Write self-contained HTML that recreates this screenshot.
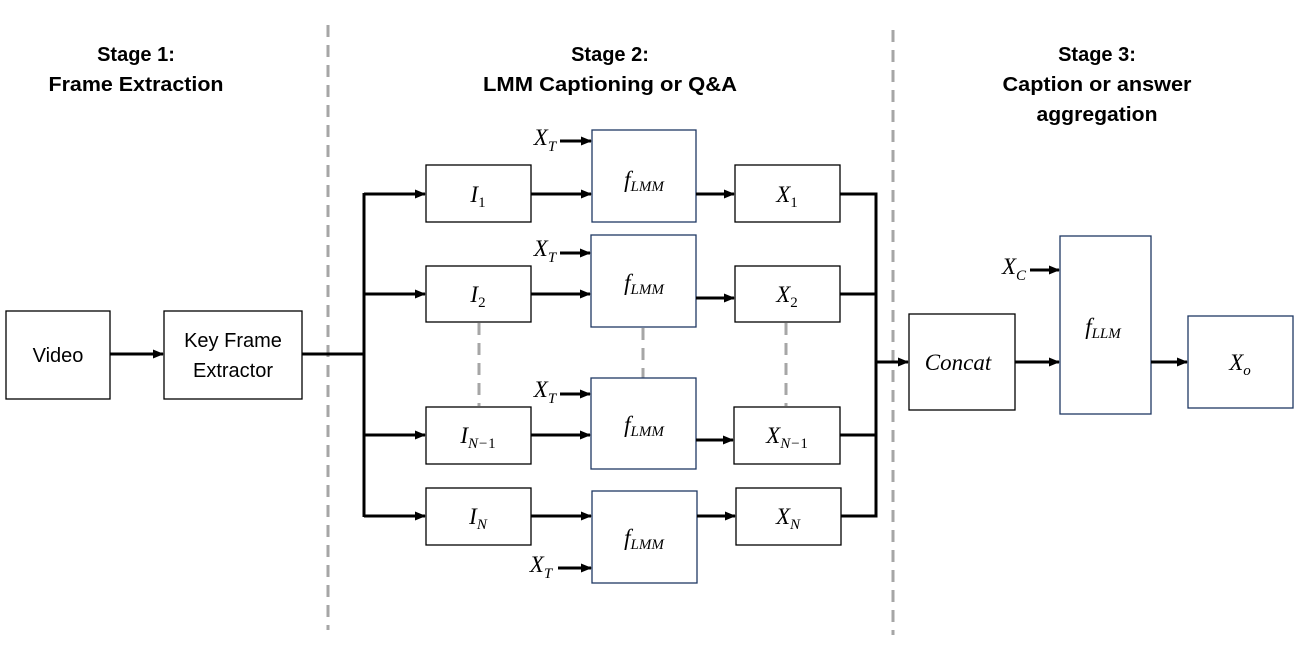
<!DOCTYPE html>
<html><head><meta charset="utf-8"><style>
html,body{margin:0;padding:0;background:#fff;}
svg{display:block}
.t{font-family:"Liberation Sans",sans-serif;font-weight:bold;font-size:20px;text-anchor:middle;fill:#000}
.n{font-family:"Liberation Sans",sans-serif;font-size:20px;text-anchor:middle;fill:#000}
.m{font-family:"Liberation Serif",serif;font-style:italic;font-size:23px;fill:#000;text-anchor:middle}
.s{font-size:15px}
.u{font-size:15px;font-style:normal}
</style></head><body>
<svg width="1304" height="651" viewBox="0 0 1304 651" xmlns="http://www.w3.org/2000/svg">
<defs>
<marker id="a" markerWidth="11" markerHeight="9" refX="10" refY="4.5" orient="auto" markerUnits="userSpaceOnUse">
<path d="M0,0 L11,4.5 L0,9 z" fill="#000"/></marker>
</defs>
<text class="t" x="136" y="61">Stage 1:</text>
<text class="t" x="136" y="91" textLength="175" lengthAdjust="spacingAndGlyphs">Frame Extraction</text>
<text class="t" x="610" y="61">Stage 2:</text>
<text class="t" x="610" y="91" textLength="254" lengthAdjust="spacingAndGlyphs">LMM Captioning or Q&amp;A</text>
<text class="t" x="1097" y="61">Stage 3:</text>
<text class="t" x="1097" y="91" textLength="189" lengthAdjust="spacingAndGlyphs">Caption or answer</text>
<text class="t" x="1097" y="121" textLength="121" lengthAdjust="spacingAndGlyphs">aggregation</text>
<g stroke="#a6a6a6" stroke-width="3" stroke-dasharray="12,8">
<line x1="328" y1="25" x2="328" y2="630"/>
<line x1="893" y1="30" x2="893" y2="635"/>
<line x1="479" y1="323" x2="479" y2="406"/>
<line x1="643" y1="328" x2="643" y2="378"/>
<line x1="786" y1="323" x2="786" y2="406"/>
</g>
<g fill="#fff" stroke="#000" stroke-width="1.3">
<rect x="6" y="311" width="104" height="88"/>
<rect x="164" y="311" width="138" height="88"/>
<rect x="426" y="165" width="105" height="57"/>
<rect x="426" y="266" width="105" height="56"/>
<rect x="426" y="407" width="105" height="57"/>
<rect x="426" y="488" width="105" height="57"/>
<rect x="735" y="165" width="105" height="57"/>
<rect x="735" y="266" width="105" height="56"/>
<rect x="734" y="407" width="106" height="57"/>
<rect x="736" y="488" width="105" height="57"/>
<rect x="909" y="314" width="106" height="96"/>
</g>
<g fill="#fff" stroke="#1f3864" stroke-width="1.3">
<rect x="592" y="130" width="104" height="92"/>
<rect x="591" y="235" width="105" height="92"/>
<rect x="591" y="378" width="105" height="91"/>
<rect x="592" y="491" width="105" height="92"/>
<rect x="1060" y="236" width="91" height="178"/>
<rect x="1188" y="316" width="105" height="92"/>
</g>
<g stroke="#000" stroke-width="3" fill="none">
<line x1="110" y1="354" x2="163" y2="354" marker-end="url(#a)"/>
<polyline points="302,354 364,354"/>
<line x1="364" y1="193" x2="364" y2="517"/>
<line x1="364" y1="194" x2="425" y2="194" marker-end="url(#a)"/>
<line x1="364" y1="294" x2="425" y2="294" marker-end="url(#a)"/>
<line x1="364" y1="435" x2="425" y2="435" marker-end="url(#a)"/>
<line x1="364" y1="516" x2="425" y2="516" marker-end="url(#a)"/>
<line x1="531" y1="194" x2="591" y2="194" marker-end="url(#a)"/>
<line x1="531" y1="294" x2="590" y2="294" marker-end="url(#a)"/>
<line x1="531" y1="435" x2="590" y2="435" marker-end="url(#a)"/>
<line x1="531" y1="516" x2="591" y2="516" marker-end="url(#a)"/>
<line x1="696" y1="194" x2="734" y2="194" marker-end="url(#a)"/>
<line x1="696" y1="298" x2="734" y2="298" marker-end="url(#a)"/>
<line x1="696" y1="440" x2="733" y2="440" marker-end="url(#a)"/>
<line x1="697" y1="516" x2="735" y2="516" marker-end="url(#a)"/>
<line x1="560" y1="141" x2="591" y2="141" marker-end="url(#a)"/>
<line x1="560" y1="253" x2="590" y2="253" marker-end="url(#a)"/>
<line x1="560" y1="394" x2="590" y2="394" marker-end="url(#a)"/>
<line x1="558" y1="568" x2="591" y2="568" marker-end="url(#a)"/>
<polyline points="840,194 876,194 876,516 841,516"/>
<line x1="840" y1="294" x2="876" y2="294"/>
<line x1="840" y1="435" x2="876" y2="435"/>
<line x1="876" y1="362" x2="908" y2="362" marker-end="url(#a)"/>
<line x1="1015" y1="362" x2="1059" y2="362" marker-end="url(#a)"/>
<line x1="1030" y1="270" x2="1059" y2="270" marker-end="url(#a)"/>
<line x1="1151" y1="362" x2="1187" y2="362" marker-end="url(#a)"/>
</g>
<text class="n" x="58" y="362">Video</text>
<text class="n" x="233" y="347">Key Frame</text>
<text class="n" x="233" y="377">Extractor</text>
<text class="m" x="478" y="202">I<tspan class="u" dy="5">1</tspan></text>
<text class="m" x="478" y="302">I<tspan class="u" dy="5">2</tspan></text>
<text class="m" x="478" y="443">I<tspan class="s" dy="5">N−<tspan class="u">1</tspan></tspan></text>
<text class="m" x="478" y="524">I<tspan class="s" dy="5">N</tspan></text>
<text class="m" x="787" y="202">X<tspan class="u" dy="5">1</tspan></text>
<text class="m" x="787" y="302">X<tspan class="u" dy="5">2</tspan></text>
<text class="m" x="787" y="443">X<tspan class="s" dy="5">N−<tspan class="u">1</tspan></tspan></text>
<text class="m" x="788" y="524">X<tspan class="s" dy="5">N</tspan></text>
<text class="m" x="644" y="187">f<tspan class="s" dy="4">LMM</tspan></text>
<text class="m" x="644" y="290">f<tspan class="s" dy="4">LMM</tspan></text>
<text class="m" x="644" y="432">f<tspan class="s" dy="4">LMM</tspan></text>
<text class="m" x="644" y="545">f<tspan class="s" dy="4">LMM</tspan></text>
<text class="m" x="545" y="145">X<tspan class="s" dy="6">T</tspan></text>
<text class="m" x="545" y="256">X<tspan class="s" dy="6">T</tspan></text>
<text class="m" x="545" y="397">X<tspan class="s" dy="6">T</tspan></text>
<text class="m" x="541" y="572">X<tspan class="s" dy="6">T</tspan></text>
<text class="m" x="1014" y="274">X<tspan class="s" dy="6">C</tspan></text>
<text class="m" x="958" y="370">Concat</text>
<text class="m" x="1103" y="334">f<tspan class="s" dy="4">LLM</tspan></text>
<text class="m" x="1240" y="370">X<tspan class="s" dy="5">o</tspan></text>
</svg>
</body></html>
